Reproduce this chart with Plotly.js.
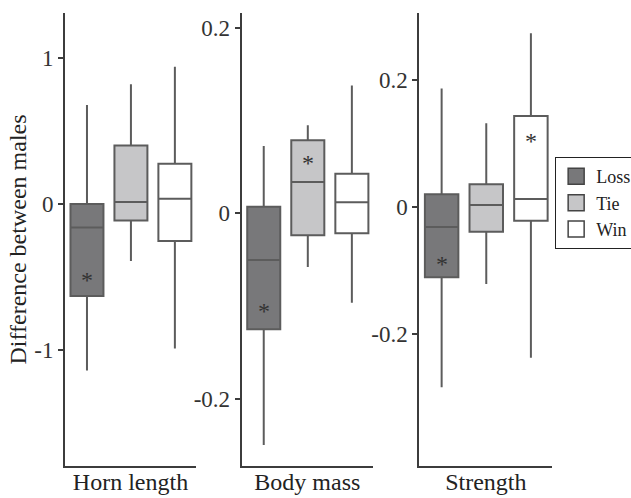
<!DOCTYPE html>
<html>
<head>
<meta charset="utf-8">
<script src="https://cdn.plot.ly/plotly-3.0.1.min.js"></script>
<style>html,body{margin:0;padding:0;background:#fff;}#chart{width:631px;height:498px;}</style>
</head>
<body>
<div id="chart"></div>
<script>
// ---- data ----
const groups = ['Loss', 'Tie', 'Win'];
const panelNames = ['Horn length', 'Body mass', 'Strength'];
const yTitle = 'Difference between males';

const hornLower  = [-1.14, -0.39, -0.99];
const hornQ1     = [-0.63, -0.114, -0.253];
const hornMedian = [-0.162, 0.014, 0.036];
const hornQ3     = [0.0, 0.40, 0.276];
const hornUpper  = [0.678, 0.82, 0.94];
const hornStar   = [-0.502, null, null];

const massLower  = [-0.250, -0.058, -0.0965];
const massQ1     = [-0.125, -0.0237, -0.0216];
const massMedian = [-0.0504, 0.0338, 0.0119];
const massQ3     = [0.0071, 0.079, 0.0427];
const massUpper  = [0.0726, 0.095, 0.138];
const massStar   = [-0.1025, 0.058, null];

const strLower  = [-0.284, -0.1215, -0.2374];
const strQ1     = [-0.111, -0.0393, -0.0221];
const strMedian = [-0.0319, 0.0027, 0.0121];
const strQ3     = [0.0195, 0.0352, 0.1426];
const strUpper  = [0.186, 0.1313, 0.2726];
const strStar   = [-0.0857, null, 0.1075];

const hornTickVals = [-1, 0, 1];
const hornTickText = ['-1', '0', '1'];
const massTickVals = [-0.2, 0, 0.2];
const massTickText = ['-0.2', '0', '0.2'];
const strTickVals  = [-0.2, 0, 0.2];
const strTickText  = ['-0.2', '0', '0.2'];

// ---- style ----
const fills = ['#78787a', '#c6c6c8', '#ffffff'];
const boxLine = '#5c5c5c';
const axisColor = '#3c3c3c';
const serif = '"Liberation Serif", "DejaVu Serif", serif';

const panels = [
  {lower: hornLower, q1: hornQ1, med: hornMedian, q3: hornQ3, upper: hornUpper, star: hornStar,
   tv: hornTickVals, tt: hornTickText, range: [-1.795, 1.308]},
  {lower: massLower, q1: massQ1, med: massMedian, q3: massQ3, upper: massUpper, star: massStar,
   tv: massTickVals, tt: massTickText, range: [-0.2727, 0.2162]},
  {lower: strLower, q1: strQ1, med: strMedian, q3: strQ3, upper: strUpper, star: strStar,
   tv: strTickVals, tt: strTickText, range: [-0.4077, 0.3046]}
];

const domains = [[0, 0.2314], [0.3122, 0.5442], [0.626, 0.861]];

const traces = [];
const annotations = [];
const layout = {
  width: 631, height: 498,
  margin: {l: 65, r: 0, t: 13, b: 32, autoexpand: false},
  paper_bgcolor: '#fff', plot_bgcolor: '#fff',
  showlegend: true,
  font: {family: serif, color: '#333', size: 23},
  legend: {
    x: 0.866, y: 0.682, xanchor: 'left', yanchor: 'top',
    bgcolor: '#fff', bordercolor: '#222', borderwidth: 1,
    font: {family: serif, size: 18, color: '#222'},
    tracegroupgap: 0
  },
  annotations: annotations
};

panels.forEach((p, i) => {
  const xa = i === 0 ? 'x' : 'x' + (i + 1);
  const ya = i === 0 ? 'y' : 'y' + (i + 1);
  groups.forEach((g, j) => {
    traces.push({
      type: 'box', x: [g],
      q1: [p.q1[j]], median: [p.med[j]], q3: [p.q3[j]],
      lowerfence: [p.lower[j]], upperfence: [p.upper[j]],
      width: 0.75, whiskerwidth: 0, boxpoints: false,
      fillcolor: fills[j], line: {color: boxLine, width: 2},
      showlegend: false, hoverinfo: 'skip',
      xaxis: xa, yaxis: ya
    });
    if (p.star[j] !== null) {
      annotations.push({
        xref: xa, yref: ya, x: g, y: p.star[j], text: '*', showarrow: false,
        xanchor: 'center', yanchor: 'middle', yshift: -3,
        font: {family: serif, size: 24, color: '#333'}
      });
    }
  });

  const xKey = i === 0 ? 'xaxis' : 'xaxis' + (i + 1);
  const yKey = i === 0 ? 'yaxis' : 'yaxis' + (i + 1);
  layout[xKey] = {
    domain: domains[i], anchor: ya, type: 'category',
    categoryorder: 'array', categoryarray: groups,
    range: [-0.5, 2.48],
    showticklabels: false, ticks: '', showgrid: false, zeroline: false,
    showline: true, linecolor: axisColor, linewidth: 2,
    title: {text: panelNames[i], font: {family: serif, size: 24, color: '#222'}, standoff: 6},
    fixedrange: true
  };
  layout[yKey] = {
    anchor: xa, range: p.range,
    tickvals: p.tv, ticktext: p.tt,
    ticks: 'outside', ticklen: 5, tickwidth: 2, tickcolor: axisColor,
    showgrid: false, zeroline: false,
    showline: true, linecolor: axisColor, linewidth: 2,
    tickfont: {family: serif, size: 23, color: '#333'},
    fixedrange: true
  };
  if (i === 0) {
    layout[yKey].title = {text: yTitle, font: {family: serif, size: 24, color: '#222'}, standoff: 1};
  }
});

// legend entries
groups.forEach((g, j) => {
  traces.push({
    type: 'scatter', mode: 'markers', x: [null], y: [null], name: g,
    marker: {symbol: 'square', size: 16, color: fills[j], line: {color: '#444', width: 1.5}},
    showlegend: true, hoverinfo: 'skip', xaxis: 'x', yaxis: 'y'
  });
});

Plotly.newPlot('chart', traces, layout, {displayModeBar: false, staticPlot: true});
</script>
</body>
</html>
